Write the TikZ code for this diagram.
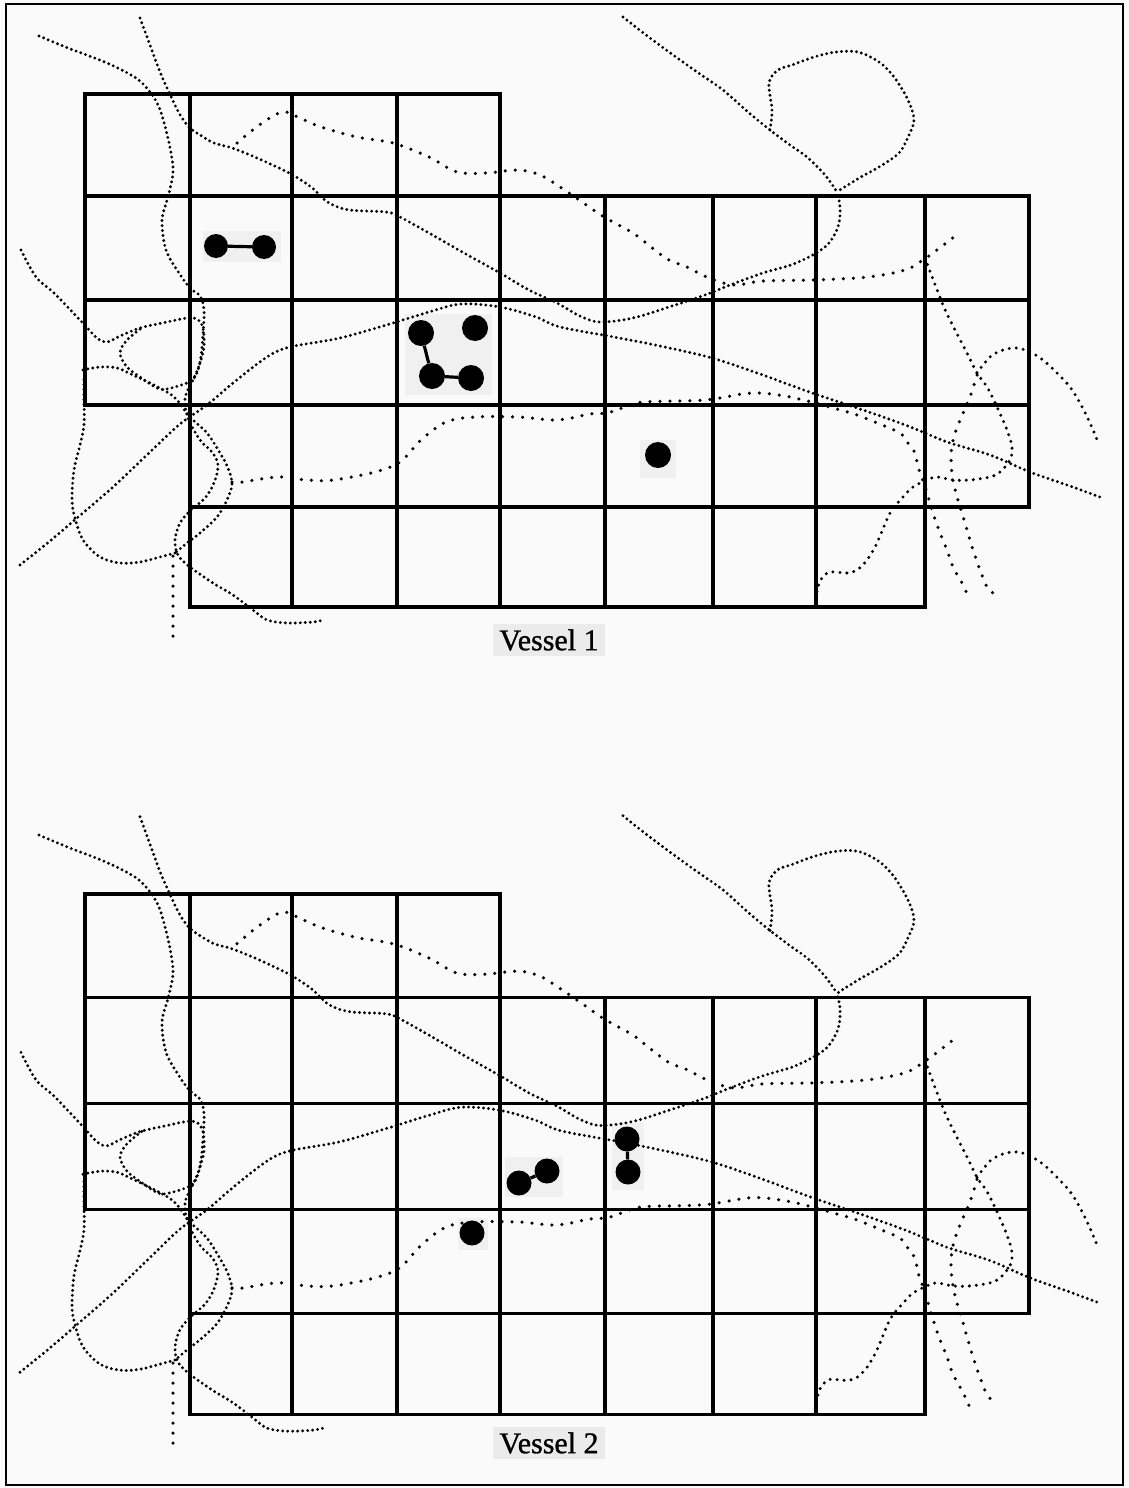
\documentclass[tikz,border=0pt]{standalone}
\usepackage{fontspec}
\setmainfont{Liberation Serif}
\tikzset{
 gridline/.style={line width=3.1pt, line cap=rect, black},
 dense/.style={line width=3.2pt, line cap=round, dash pattern=on 0pt off 5pt, black},
 medium/.style={line width=3.3pt, line cap=round, dash pattern=on 0pt off 7pt, black},
 sparse/.style={line width=3.5pt, line cap=round, dash pattern=on 0pt off 10pt, black},
 particle/.style={circle, fill=black, inner sep=0pt, minimum size=24pt},
 link/.style={line width=3.2pt},
 patch/.style={fill=black!6, draw=none},
 vlabel/.style={fill=black!8, inner xsep=6pt, inner ysep=5pt, font=\fontsize{30}{32}\selectfont\addfontfeature{FakeBold=1}}
}
\newcommand{\vesselnet}{%
 % grid
 \draw[gridline] (85,94) -- (500,94);
 \draw[gridline] (85,196) -- (1029,196);
 \draw[gridline] (85,300) -- (1029,300);
 \draw[gridline] (85,405) -- (1029,405);
 \draw[gridline] (190,507) -- (1029,507);
 \draw[gridline] (190,607) -- (925,607);
 \draw[gridline] (85,94) -- (85,405);
 \draw[gridline] (190,94) -- (190,607);
 \draw[gridline] (292,94) -- (292,607);
 \draw[gridline] (397,94) -- (397,607);
 \draw[gridline] (500,94) -- (500,607);
 \draw[gridline] (605,196) -- (605,607);
 \draw[gridline] (713,196) -- (713,607);
 \draw[gridline] (816,196) -- (816,607);
 \draw[gridline] (925,196) -- (925,607);
 \draw[gridline] (1029,196) -- (1029,507);
 % vessels
 \draw[dense] plot[smooth, tension=0.55] coordinates {(39,36) (68,48) (107,63) (136,78) (150,92) (159,107) (166,130) (171,153) (173,173) (168,197) (162,220) (166,250) (179,273) (190,288) (200,296) (204,310) (203,335) (200,362) (193,380) (185,398) (188,418) (200,440) (212,452) (218,465) (214,483) (205,498) (191,510) (180,523) (175,540) (178,555) (190,567) (213,583) (233,595) (253,610) (267,620) (287,623) (313,622) (323,620)};
 \draw[dense] plot[smooth, tension=0.55] coordinates {(140,18) (150,45) (160,72) (168,90) (179,113) (189,127) (200,135) (214,143) (232,148) (257,158) (289,173) (311,187) (329,203) (350,210) (386,212) (400,217) (436,237) (464,253) (500,273) (529,290) (557,303) (580,316) (600,322) (633,318) (669,307) (705,295) (730,285) (763,273) (796,263) (825,247) (838,227) (840,207) (837,192)};
 \draw[dense] plot[smooth, tension=0.55] coordinates {(623,17) (646,35) (669,52) (697,72) (723,90) (748,112) (770,130) (790,145) (807,157) (825,175) (837,192)};
 \draw[dense] plot[smooth, tension=0.55] coordinates {(770,130) (772,110) (769,83) (778,70) (792,65) (814,57) (836,52) (858,52) (879,62) (894,77) (908,100) (914,120) (908,137) (899,153) (879,167) (861,177) (843,188) (837,192)};
 \draw[sparse] plot[smooth, tension=0.55] coordinates {(237,143) (258,126) (282,112) (300,118) (321,127) (357,137) (393,143) (429,157) (457,172) (486,173) (518,170) (540,175) (560,187) (582,202) (604,217) (633,233) (651,247) (669,260) (687,267) (709,278) (734,285) (763,281) (814,280) (868,277) (905,270) (923,260) (941,247) (954,237)};
 \draw[medium] plot[smooth, tension=0.55] coordinates {(925,258) (941,300) (950,320) (967,353) (977,373) (987,387) (997,407) (1007,430) (1012,447) (1010,460) (1000,472) (990,477) (970,480) (953,480) (937,477) (927,480) (913,487) (903,497) (890,513) (877,543) (867,560) (857,570) (847,573) (830,572) (822,578) (818,587) (815,603)};
 \draw[medium] plot[smooth, tension=0.55] coordinates {(977,373) (990,357) (1003,350) (1017,348) (1030,352) (1043,360) (1057,373) (1070,387) (1080,403) (1090,423) (1098,442)};
 \draw[sparse] plot[smooth, tension=0.55] coordinates {(977,375) (970,397) (960,420) (953,440) (951,460) (953,480) (957,497) (962,513) (967,530) (973,550) (980,570) (987,587) (993,593)};
 \draw[sparse] plot[smooth, tension=0.55] coordinates {(232,482) (243,482) (267,478) (283,477) (307,480) (333,480) (375,472) (400,462) (421,440) (446,422) (475,417) (518,417) (557,420) (590,414) (607,413) (625,407) (643,402) (705,400) (752,393) (790,397) (833,408) (857,415) (877,423) (900,433) (908,443) (915,453) (918,467) (922,478) (927,493) (933,513) (940,533) (947,550) (953,567) (962,583) (970,600)};
 \draw[dense] plot[smooth, tension=0.55] coordinates {(20,565) (50,541) (77,518) (113,487) (150,452) (180,424) (207,405) (233,383) (267,357) (290,347) (340,338) (393,323) (429,312) (461,304) (500,307) (536,317) (560,327) (614,337) (660,346) (712,358) (760,374) (790,385) (815,394) (857,408) (900,423) (925,433) (950,443) (990,455) (1030,472) (1067,485) (1100,497)};
 \draw[dense] plot[smooth, tension=0.55] coordinates {(21,250) (36,277) (54,293) (80,320) (97,338) (107,342) (120,336) (140,328) (167,322) (187,318) (197,319) (203,328) (204,347) (200,363) (195,377) (187,383) (167,389) (157,388) (140,377) (127,367) (120,353) (127,340) (143,327)};
 \draw[dense] plot[smooth, tension=0.55] coordinates {(83,370) (100,367) (117,368) (133,375) (150,383) (167,392) (177,400) (190,417) (207,433) (220,453) (228,468) (232,484) (227,500) (217,517) (200,533) (187,543) (175,553)};
 \draw[dense] plot[smooth, tension=0.55] coordinates {(175,553) (160,557) (140,562) (120,563) (100,557) (83,540) (75,518) (72,500) (74,470) (80,445) (84,425) (84,400) (84,375)};
 \draw[sparse] plot[smooth] coordinates {(173,556) (173,597) (173,637)};
}
\begin{document}
\begin{tikzpicture}[x=1pt,y=-1pt]
\useasboundingbox (0,0) rectangle (1129,1488);
\fill[black!2] (0,0) rectangle (1129,1488);
\draw[line width=2.5pt] (6,4) rectangle (1123,1485);
% faint scan patches behind particles
\fill[patch] (203,231) rectangle (281,262);
\fill[patch] (405,314) rectangle (492,395);
\fill[patch] (640,440) rectangle (676,478);
\fill[patch] (505,1157) rectangle (563,1197);
\fill[patch] (612,1123) rectangle (644,1190);
\fill[patch] (458,1218) rectangle (488,1250);
% vessel 1
\begin{scope}
\vesselnet
\end{scope}
% vessel 2
\begin{scope}[shift={(0,798.5)}, yscale=1.0155]
\vesselnet
\end{scope}
% particles vessel 1
\node[particle] (a1) at (216,246) {};
\node[particle] (a2) at (264,247) {};
\draw[link] (a1) -- (a2);
\node[particle, minimum size=26pt] (b1) at (421,333) {};
\node[particle, minimum size=26pt] (b2) at (475,328) {};
\node[particle, minimum size=26pt] (b3) at (432,376) {};
\node[particle, minimum size=26pt] (b4) at (471,378) {};
\draw[link] (b1) -- (b3);
\draw[link] (b3) -- (b4);
\node[particle, minimum size=26pt] (c1) at (658,455) {};
% particles vessel 2
\node[particle, minimum size=25pt] (d1) at (519,1183) {};
\node[particle, minimum size=25pt] (d2) at (547,1171) {};
\draw[link] (d1) -- (d2);
\node[particle, minimum size=25pt] (e1) at (627,1139) {};
\node[particle, minimum size=25pt] (e2) at (628,1172) {};
\draw[link] (e1) -- (e2);
\node[particle, minimum size=25pt] (f1) at (472,1233) {};
% labels
\node[vlabel] (lab1) at (549,640) {Vessel 1};
\node[vlabel] (lab2) at (549,1443) {Vessel 2};
\end{tikzpicture}
\end{document}
